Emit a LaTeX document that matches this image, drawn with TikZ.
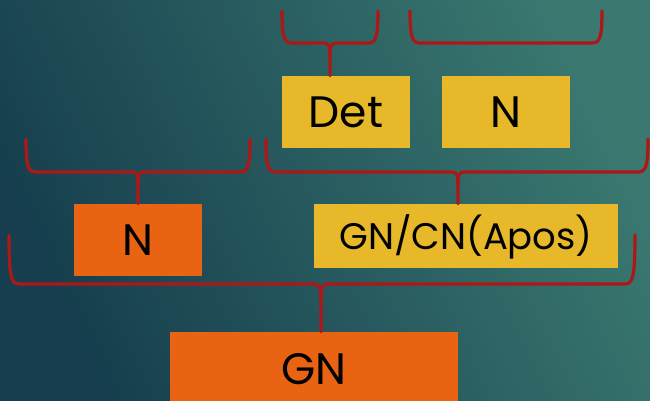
\documentclass[tikz,border=0pt]{standalone}
\usepackage{fontspec}
\setmainfont{Poppins}
\definecolor{bracered}{RGB}{172,24,24}
\definecolor{boxyellow}{RGB}{230,184,42}
\definecolor{boxorange}{RGB}{233,100,18}
\definecolor{bgdark}{RGB}{22,62,78}
\definecolor{bglight}{RGB}{58,120,112}
\tikzset{
  wordbox/.style={rectangle, inner sep=0pt, text height=31pt, text depth=0pt,
    font=\fontsize{44}{50}\selectfont, text=black},
  yellowbox/.style={wordbox, fill=boxyellow},
  orangebox/.style={wordbox, fill=boxorange},
  bracket/.style={draw=bracered, line width=3.2pt, line cap=round, line join=round},
}
\begin{document}
\begin{tikzpicture}[x=1pt,y=-1pt]
\useasboundingbox (0,0) rectangle (650,400);
\clip (0,0) rectangle (650,400);
\shade[left color=bgdark, right color=bglight, shading angle=115] (0,0) rectangle (650,400);

% boxes
\node[yellowbox, minimum width=128pt, minimum height=72pt] (det) at (346,112) {Det};
\node[yellowbox, minimum width=128pt, minimum height=72pt] (ntop) at (506,112) {N};
\node[orangebox, minimum width=128pt, minimum height=72pt] (nor) at (138,240) {N};
\node[yellowbox, minimum width=304pt, minimum height=64pt, text height=26.5pt,
      font=\fontsize{37}{42}\selectfont] (gncn) at (466,236) {GN/CN(Apos)};
\node[orangebox, minimum width=288pt, minimum height=73pt] (gn) at (314,368.5) {GN};

% braces
% over Det
\draw[bracket] (282,11) .. controls (282,37) and (284,43) .. (292,43) -- (324,43)
  .. controls (329,43) and (330,46) .. (330,57) -- (330,0 |- det.north);
\draw[bracket] (378,11) .. controls (378,37) and (376,43) .. (368,43) -- (336,43)
  .. controls (331,43) and (330,46) .. (330,57);
% over N (top), no tip
\draw[bracket] (410,11) .. controls (410,37) and (412,43) .. (420,43) -- (592,43)
  .. controls (600,43) and (602,37) .. (602,11);
% over N (orange)
\draw[bracket] (26,139) .. controls (26,166) and (28,172) .. (36,172) -- (132,172)
  .. controls (137,172) and (138,175) .. (138,186) -- (nor.north);
\draw[bracket] (250,139) .. controls (250,166) and (248,172) .. (240,172) -- (144,172)
  .. controls (139,172) and (138,175) .. (138,186);
% over GN/CN(Apos)
\draw[bracket] (266,139) .. controls (266,166) and (268,172) .. (276,172) -- (452,172)
  .. controls (457,172) and (458,175) .. (458,186) -- (458,0 |- gncn.north);
\draw[bracket] (648,139) .. controls (648,166) and (646,172) .. (638,172) -- (464,172)
  .. controls (459,172) and (458,175) .. (458,186);
% over GN
\draw[bracket] (9,235) .. controls (9,276) and (11,284) .. (19,284) -- (314,284)
  .. controls (320,284) and (321,288) .. (321,302) -- (321,0 |- gn.north);
\draw[bracket] (635,235) .. controls (635,276) and (633,284) .. (625,284) -- (328,284)
  .. controls (322,284) and (321,288) .. (321,302);
\end{tikzpicture}
\end{document}
